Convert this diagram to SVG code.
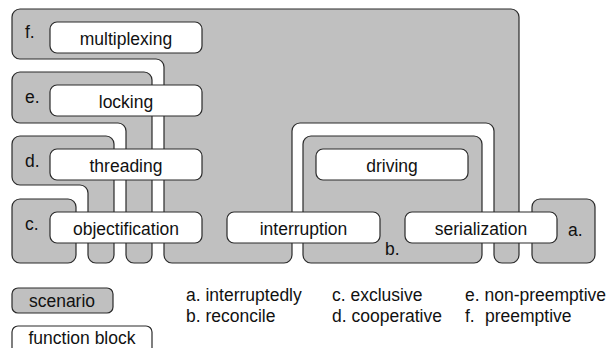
<svg xmlns="http://www.w3.org/2000/svg" width="611" height="348" viewBox="0 0 611 348">
  <style>
    .scn { fill: #c0c0c0; stroke: #2a2a2a; stroke-width: 1.2; }
    .fb { fill: #ffffff; stroke: #2a2a2a; stroke-width: 1.2; }
    text { font-family: "Liberation Sans", Arial, sans-serif; font-size: 17.5px; fill: #111111; }
    .c { text-anchor: middle; }
  </style>
  <rect width="611" height="348" fill="#ffffff"/>

  <!-- scenarios -->
  <g id="scenario-f">
    <path class="scn" d="M12,17 A8,8 0 0 1 20,9 H511 A8,8 0 0 1 519,17 V255 A8,8 0 0 1 511,263 H502 A8,8 0 0 1 494,255 V131 A8,8 0 0 0 486,123 H300 A8,8 0 0 0 292,131 V255 A8,8 0 0 1 284,263 H172 A8,8 0 0 1 164,255 V67 A8,8 0 0 0 156,59 H20 A8,8 0 0 1 12,51 Z"/>
    <text x="25" y="38">f.</text>
  </g>
  <g id="scenario-e">
    <path class="scn" d="M12,80 A8,8 0 0 1 20,72 H144 A8,8 0 0 1 152,80 V255 A8,8 0 0 1 144,263 H134 A8,8 0 0 1 126,255 V131 A8,8 0 0 0 118,123 H20 A8,8 0 0 1 12,115 Z"/>
    <text x="25" y="103">e.</text>
  </g>
  <g id="scenario-d">
    <path class="scn" d="M12,144 A8,8 0 0 1 20,136 H106 A8,8 0 0 1 114,144 V255 A8,8 0 0 1 106,263 H96 A8,8 0 0 1 88,255 V193 A8,8 0 0 0 80,185 H20 A8,8 0 0 1 12,177 Z"/>
    <text x="25" y="167">d.</text>
  </g>
  <g id="scenario-c">
    <rect class="scn" x="12" y="199" width="64" height="64" rx="8"/>
    <text x="25" y="230">c.</text>
  </g>
  <g id="scenario-b">
    <rect class="scn" x="303" y="136" width="179" height="127" rx="8"/>
    <text x="385" y="255">b.</text>
  </g>
  <g id="scenario-a">
    <rect class="scn" x="532" y="199" width="63" height="64" rx="8"/>
    <text x="568" y="236">a.</text>
  </g>

  <!-- function blocks -->
  <g id="fb-multiplexing">
    <rect class="fb" x="50" y="22" width="152" height="31" rx="7"/>
    <text class="c" x="126" y="45">multiplexing</text>
  </g>
  <g id="fb-locking">
    <rect class="fb" x="50" y="85" width="152" height="31" rx="7"/>
    <text class="c" x="126" y="108">locking</text>
  </g>
  <g id="fb-threading">
    <rect class="fb" x="50" y="149" width="152" height="31" rx="7"/>
    <text class="c" x="126" y="172">threading</text>
  </g>
  <g id="fb-objectification">
    <rect class="fb" x="50" y="212" width="152" height="31" rx="7"/>
    <text class="c" x="126" y="235">objectification</text>
  </g>
  <g id="fb-interruption">
    <rect class="fb" x="227" y="212" width="153" height="31" rx="7"/>
    <text class="c" x="303.5" y="235">interruption</text>
  </g>
  <g id="fb-driving">
    <rect class="fb" x="316" y="149" width="152" height="31" rx="7"/>
    <text class="c" x="392" y="172">driving</text>
  </g>
  <g id="fb-serialization">
    <rect class="fb" x="405" y="212" width="152" height="31" rx="7"/>
    <text class="c" x="481" y="235">serialization</text>
  </g>

  <!-- no connectors in this figure -->
  <g id="connectors"/>

  <!-- legend -->
  <g id="legend">
    <rect class="scn" x="12" y="288" width="101" height="25" rx="6"/>
    <text class="c" x="62" y="307">scenario</text>
    <rect class="fb" x="12" y="326" width="140" height="34" rx="6"/>
    <text class="c" x="82" y="344">function block</text>
    <text x="186" y="301">a. interruptedly</text>
    <text x="186" y="322">b. reconcile</text>
    <text x="332" y="301">c. exclusive</text>
    <text x="332" y="322">d. cooperative</text>
    <text x="465" y="301">e. non-preemptive</text>
    <text x="465" y="322">f.<tspan x="485">preemptive</tspan></text>
  </g>
</svg>
